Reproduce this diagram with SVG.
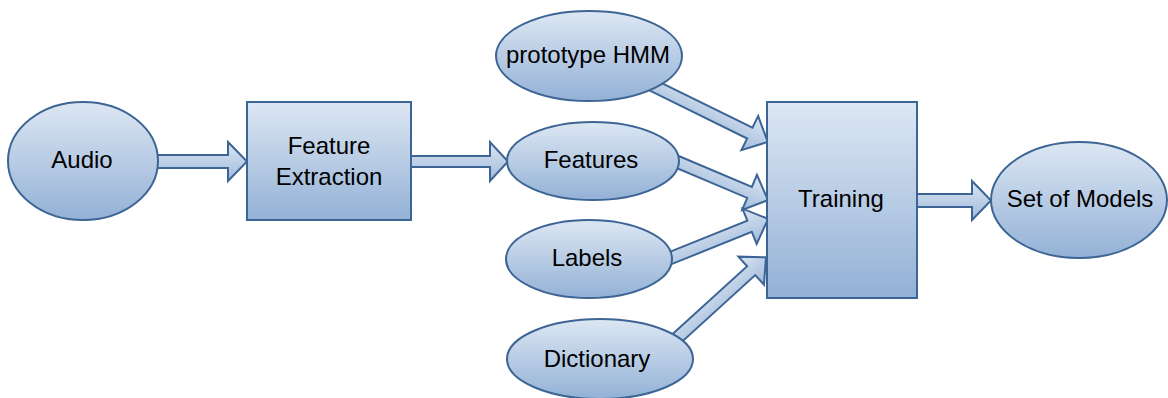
<svg xmlns="http://www.w3.org/2000/svg" width="1168" height="398" viewBox="0 0 1168 398">
<defs>
<linearGradient id="g" x1="0" y1="0" x2="0" y2="1">
<stop offset="0" stop-color="#dde7f3"/>
<stop offset="1" stop-color="#93b1d6"/>
</linearGradient>
<linearGradient id="ga" x1="0" y1="0" x2="0" y2="1">
<stop offset="0" stop-color="#dce6f2"/>
<stop offset="1" stop-color="#9fbadb"/>
</linearGradient>
</defs>
<style>
.n{fill:url(#g);stroke:#3c6595;stroke-width:2}
.a{fill:url(#ga);stroke:#3c6595;stroke-width:2;stroke-linejoin:miter}
text{font-family:"Liberation Sans",Arial,sans-serif;font-size:24px;fill:#000;text-anchor:middle}
</style>
<rect width="1168" height="398" fill="#fff"/>
<g id="connectors">
<polygon class="a" points="150,155 228,155 228,142 247,161.5 228,181 228,168 150,168"/>
<polygon class="a" points="405,156 490,156 490,142 508,161.5 490,181 490,167 405,167"/>
<polygon class="a" points="911,194 972,194 972,181 991,200.5 972,220 972,207 911,207"/>
<polygon class="a" transform="translate(652,85) rotate(26.2)" points="0,-6 109,-6 109,-19 129,0 109,19 109,6 0,6"/>
<polygon class="a" transform="translate(674,160.5) rotate(22.9)" points="0,-6 82,-6 82,-19 102,0 82,19 82,6 0,6"/>
<polygon class="a" transform="translate(667,259.5) rotate(-21.9)" points="0,-6 89,-6 89,-19 109,0 89,19 89,6 0,6"/>
<polygon class="a" transform="translate(675,340) rotate(-42.3)" points="0,-6 103,-6 103,-19 123,0 103,19 103,6 0,6"/>
</g>
<g id="audio">
<ellipse class="n" cx="83" cy="161" rx="75" ry="59"/>
<text x="82" y="168">Audio</text>
</g>
<g id="feature-extraction">
<rect class="n" x="247" y="102" width="164" height="118"/>
<text x="329" y="154">Feature</text>
<text x="329" y="185">Extraction</text>
</g>
<g id="prototype-hmm">
<ellipse class="n" cx="589" cy="56" rx="93" ry="45"/>
<text x="588" y="63">prototype HMM</text>
</g>
<g id="features">
<ellipse class="n" cx="593" cy="161" rx="86" ry="39"/>
<text x="591" y="168">Features</text>
</g>
<g id="labels">
<ellipse class="n" cx="589" cy="259" rx="83" ry="39"/>
<text x="587" y="266">Labels</text>
</g>
<g id="dictionary">
<ellipse class="n" cx="600" cy="359" rx="93" ry="40"/>
<text x="597" y="367">Dictionary</text>
</g>
<g id="training">
<rect class="n" x="767" y="102" width="150" height="196"/>
<text x="841" y="207">Training</text>
</g>
<g id="set-of-models">
<ellipse class="n" cx="1079" cy="200" rx="88" ry="58"/>
<text x="1080" y="207">Set of Models</text>
</g>
</svg>
